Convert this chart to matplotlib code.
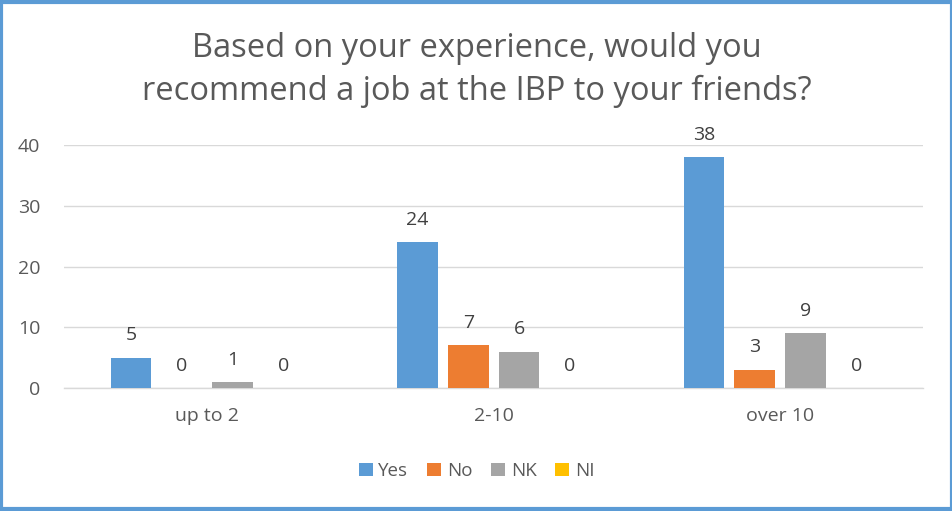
import matplotlib
matplotlib.use("Agg")
import matplotlib.pyplot as plt
import numpy as np
from matplotlib.patches import Rectangle

categories = ["up to 2", "2-10", "over 10"]
series_names = ["Yes", "No", "NK", "NI"]
yes_vals = [5, 24, 38]
no_vals = [0, 7, 3]
nk_vals = [1, 6, 9]
ni_vals = [0, 0, 0]
y_ticks = [0, 10, 20, 30, 40]

colors = ["#5B9BD5", "#ED7D31", "#A5A5A5", "#FFC000"]
text_color = "#595959"

plt.rcParams['font.family'] = ['Open Sans', 'DejaVu Sans']

fig = plt.figure(figsize=(9.53, 5.11), dpi=100)
ax = fig.add_axes([0.067, 0.2407, 0.902, 0.4755])

x = np.arange(len(categories))
bar_w = 0.142
step = 0.177
all_vals = [yes_vals, no_vals, nk_vals, ni_vals]
for i, (name, vals) in enumerate(zip(series_names, all_vals)):
    pos = x + (i - 1.5) * step
    ax.bar(pos, vals, width=bar_w, color=colors[i], label=name, zorder=3)
    for p, v in zip(pos, vals):
        ax.text(p, v + 2.2, str(v), ha='center', va='bottom', fontsize=14, color="#404040")

ax.set_xlim(-0.5, 2.5)
ax.set_ylim(0, 40)
ax.set_yticks(y_ticks)
ax.set_xticks(x)
ax.set_xticklabels(categories)
ax.tick_params(axis='both', length=0, labelsize=14, labelcolor=text_color)
ax.tick_params(axis='y', pad=17)
ax.tick_params(axis='x', pad=14)
ax.grid(axis='y', color='#D9D9D9', linewidth=1, zorder=0)
for s in ['top', 'right', 'left']:
    ax.spines[s].set_visible(False)
ax.spines['bottom'].set_color('#D9D9D9')
ax.spines['bottom'].set_linewidth(1)

fig.text(0.5, 0.863, "Based on your experience, would you\nrecommend a job at the IBP to your friends?",
         ha='center', va='center', fontsize=23.5, color=text_color, linespacing=1.38)

leg = fig.legend(loc='center', bbox_to_anchor=(0.5, 0.078), ncol=4, frameon=False,
                 fontsize=13.5, handlelength=0.75, handleheight=0.75, handletextpad=0.3,
                 columnspacing=1.0)
for t in leg.get_texts():
    t.set_color(text_color)

fig.patches.append(Rectangle((0.0015, 0.003), 0.997, 0.994, transform=fig.transFigure,
                             fill=False, edgecolor='#5B9BD5', linewidth=3))

plt.savefig("out.png", dpi=100)
plt.close()
